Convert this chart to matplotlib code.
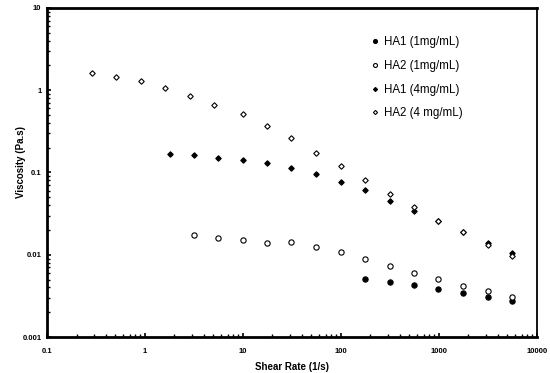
import matplotlib
matplotlib.use("Agg")
import matplotlib.pyplot as plt
from matplotlib.ticker import LogLocator, FixedLocator, FixedFormatter, NullFormatter

plt.rcParams['font.family'] = ['Liberation Sans', 'DejaVu Sans']

# Data
x_ha2_4 = [0.29, 0.51, 0.91, 1.61, 2.86, 5.1, 10, 17.7, 31, 56, 100, 176, 316, 560, 985, 1760, 3140, 5560]
y_ha2_4 = [1.63, 1.45, 1.28, 1.07, 0.86, 0.67, 0.51, 0.37, 0.265, 0.175, 0.119, 0.080,
           0.055, 0.0378, 0.0257, 0.0187, 0.0132, 0.0096]

x_ha1_4 = [1.79, 3.16, 5.6, 10, 17.7, 31, 56, 100, 176, 316, 560, 985, 1760, 3140, 5560]
y_ha1_4 = [0.167, 0.161, 0.152, 0.143, 0.130, 0.113, 0.0955, 0.076, 0.0617,
           0.0456, 0.0344, 0.0257, 0.0187, 0.0140, 0.0105]

x_ha2_1 = [3.16, 5.6, 10, 17.7, 31, 56, 100, 176, 316, 560, 985, 1760, 3140, 5560]
y_ha2_1 = [0.0174, 0.0161, 0.0151, 0.0140, 0.0141, 0.0124, 0.0107, 0.00885,
           0.00734, 0.00608, 0.00505, 0.00422, 0.00363, 0.00305]

x_ha1_1 = [176, 316, 560, 985, 1760, 3140, 5560]
y_ha1_1 = [0.00501, 0.00465, 0.00423, 0.00385, 0.00344, 0.00305, 0.00272]

labels = ['HA1 (1mg/mL)', 'HA2 (1mg/mL)', 'HA1 (4mg/mL)', 'HA2 (4 mg/mL)']

x_ticks = [0.1, 1, 10, 100, 1000, 10000]
x_ticklabels = ['0.1', '1', '10', '100', '1000', '10000']
y_ticks = [0.001, 0.01, 0.1, 1, 10]
y_ticklabels = ['0.001', '0.01', '0.1', '1', '10']

fig = plt.figure(figsize=(5.5, 3.73), dpi=100)
ax = fig.add_axes([0.0855, 0.0965, 0.8905, 0.8821])

ax.plot(x_ha1_1, y_ha1_1, 'o', ms=3.8, mfc='black', mec='black', mew=0.8, ls='none', label=labels[0])
ax.plot(x_ha2_1, y_ha2_1, 'o', ms=3.8, mfc='white', mec='black', mew=0.8, ls='none', label=labels[1])
ax.plot(x_ha1_4, y_ha1_4, 'D', ms=2.8, mfc='black', mec='black', mew=0.8, ls='none', label=labels[2])
ax.plot(x_ha2_4, y_ha2_4, 'D', ms=2.8, mfc='white', mec='black', mew=0.8, ls='none', label=labels[3])

ax.set_xscale('log')
ax.set_yscale('log')
ax.set_xlim(0.1, 10000)
ax.set_ylim(0.001, 10)

ax.xaxis.set_major_locator(FixedLocator(x_ticks))
ax.xaxis.set_major_formatter(FixedFormatter(x_ticklabels))
ax.yaxis.set_major_locator(FixedLocator(y_ticks))
ax.yaxis.set_major_formatter(FixedFormatter(y_ticklabels))
ax.xaxis.set_minor_locator(LogLocator(base=10, subs=range(2, 10)))
ax.yaxis.set_minor_locator(LogLocator(base=10, subs=range(2, 10)))
ax.xaxis.set_minor_formatter(NullFormatter())
ax.yaxis.set_minor_formatter(NullFormatter())

ax.tick_params(which='major', direction='in', length=3, width=1.2, labelsize=5.5, pad=4)
ax.tick_params(axis='x', which='major', pad=8)
ax.tick_params(which='minor', direction='in', length=2.5, width=1.0)
for lab in ax.get_xticklabels() + ax.get_yticklabels():
    lab.set_fontweight('bold')

for side in ['left', 'bottom', 'top']:
    ax.spines[side].set_linewidth(2.0)
ax.spines['right'].set_linewidth(1.3)

ax.set_xlabel('Shear Rate (1/s)', fontsize=7, fontweight='bold', labelpad=5)
ax.set_ylabel('Viscosity (Pa.s)', fontsize=7, fontweight='bold')
ax.yaxis.set_label_coords(-0.042, 0.532)

leg = ax.legend(loc='upper right', bbox_to_anchor=(0.87, 0.946), frameon=False,
                fontsize=8.3, handlelength=0.4, handletextpad=0.6, labelspacing=1.02,
                markerscale=0.75)

fig.savefig('out.png', dpi=100)
